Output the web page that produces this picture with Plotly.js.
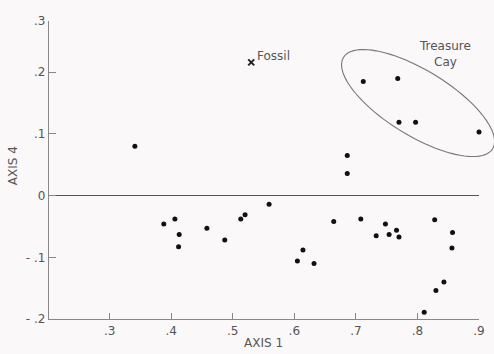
<!DOCTYPE html>
<html>
<head>
<meta charset="utf-8">
<script src="https://cdn.plot.ly/plotly-3.0.1.min.js"></script>
<style>html,body{margin:0;padding:0;background:#fbf8f9;}</style>
</head>
<body>
<div id="chart" style="width:494px;height:354px;"></div>
<script>
// Sample scores on axis 1 (x) and axis 4 (y)
const axis1 = [0.341, 0.712, 0.768, 0.770, 0.797, 0.900, 0.686, 0.686,
  0.388, 0.406, 0.413, 0.412, 0.458, 0.487, 0.513, 0.520, 0.559, 0.605, 0.614, 0.632,
  0.664, 0.708, 0.748, 0.733, 0.754, 0.766, 0.770, 0.828, 0.857, 0.856, 0.843, 0.830, 0.811];
const axis4 = [0.080, 0.185, 0.190, 0.119, 0.119, 0.103, 0.065, 0.036,
  -0.046, -0.038, -0.063, -0.083, -0.053, -0.072, -0.038, -0.031, -0.014, -0.106, -0.088, -0.110,
  -0.042, -0.038, -0.046, -0.065, -0.063, -0.056, -0.067, -0.039, -0.060, -0.085, -0.140, -0.154, -0.189];
// Fossil sample
const fossilX = [0.530];
const fossilY = [0.216];
// Treasure Cay group outline (ellipse): centre, semi-axes, tilt in degrees
const ellipseCenter = [0.801, 0.150];
const ellipseAxes = [0.142, 0.053];
const ellipseTilt = -31.4;
// Axes
const xRange = [0.2015, 0.9];
const yRange = [-0.2, 0.283];
const xTickVals = [0.3, 0.4, 0.5, 0.6, 0.7, 0.8, 0.9];
const xTickText = ['.3', '.4', '.5', '.6', '.7', '.8', '.9'];
const yTickVals = [-0.2, -0.1, 0, 0.1, 0.2, 0.283];
const yTickText = ['- .2', '- .1', '0', '.1', '.2', '.3'];

// build ellipse path in paper coordinates (so it is not clipped by the plot area)
function ellipsePath(c, ax, tiltDeg) {
  const t = tiltDeg * Math.PI / 180;
  const px = v => (v - xRange[0]) / (xRange[1] - xRange[0]);
  const py = v => (v - yRange[0]) / (yRange[1] - yRange[0]);
  let d = '';
  for (let i = 0; i <= 90; i++) {
    const a = i / 90 * 2 * Math.PI;
    const u = ax[0] * Math.cos(a), v = ax[1] * Math.sin(a);
    const x = c[0] + u * Math.cos(t) - v * Math.sin(t);
    const y = c[1] + u * Math.sin(t) + v * Math.cos(t);
    d += (i === 0 ? 'M' : 'L') + px(x).toFixed(5) + ',' + py(y).toFixed(5);
  }
  return d + 'Z';
}

const font = {family: 'DejaVu Sans, Liberation Sans, sans-serif', size: 12, color: '#555'};

const traces = [
  {x: axis1, y: axis4, type: 'scatter', mode: 'markers', cliponaxis: false,
   marker: {color: '#111', size: 5}, hoverinfo: 'skip'},
  {x: fossilX, y: fossilY, type: 'scatter', mode: 'markers', cliponaxis: false,
   marker: {symbol: 'x-thin-open', color: '#222', size: 6, line: {width: 2, color: '#222'}}, hoverinfo: 'skip'}
];

const layout = {
  width: 494, height: 354,
  margin: {l: 49, r: 15, t: 21, b: 35},
  paper_bgcolor: '#fbf8f9', plot_bgcolor: '#fbf8f9',
  showlegend: false,
  font: font,
  xaxis: {range: xRange, tickvals: xTickVals, ticktext: xTickText,
    showgrid: false, zeroline: false, showline: true, linecolor: '#888', linewidth: 1.2,
    ticks: 'inside', ticklen: 6, tickcolor: '#888', tickwidth: 1, tickfont: font},
  yaxis: {range: yRange, tickvals: yTickVals, ticktext: yTickText,
    showgrid: false, zeroline: true, zerolinecolor: '#555', zerolinewidth: 1.6,
    showline: true, linecolor: '#888', linewidth: 1.2,
    ticks: 'inside', ticklen: 7, tickcolor: '#888', tickwidth: 1, tickfont: font},
  shapes: [
    {type: 'path', xref: 'paper', yref: 'paper', path: ellipsePath(ellipseCenter, ellipseAxes, ellipseTilt),
     line: {color: '#777', width: 1.1}}
  ],
  annotations: [
    {xref: 'paper', yref: 'paper', x: -0.0837, y: 0.513, text: 'AXIS 4', textangle: -90,
     showarrow: false, xanchor: 'center', yanchor: 'middle', font: font},
    {xref: 'paper', yref: 'paper', x: 0.499, y: -0.0805, text: 'AXIS 1',
     showarrow: false, xanchor: 'center', yanchor: 'middle', font: font},
    {xref: 'x', yref: 'y', x: fossilX[0], y: fossilY[0], text: 'Fossil', showarrow: false,
     xanchor: 'left', yanchor: 'middle', xshift: 4, yshift: 6, font: font},
    {xref: 'x', yref: 'y', x: 0.844, y: 0.229, text: 'Treasure<br>Cay', showarrow: false,
     xanchor: 'center', yanchor: 'middle', font: font}
  ]
};

Plotly.newPlot('chart', traces, layout, {staticPlot: true, displayModeBar: false});
</script>
</body>
</html>
